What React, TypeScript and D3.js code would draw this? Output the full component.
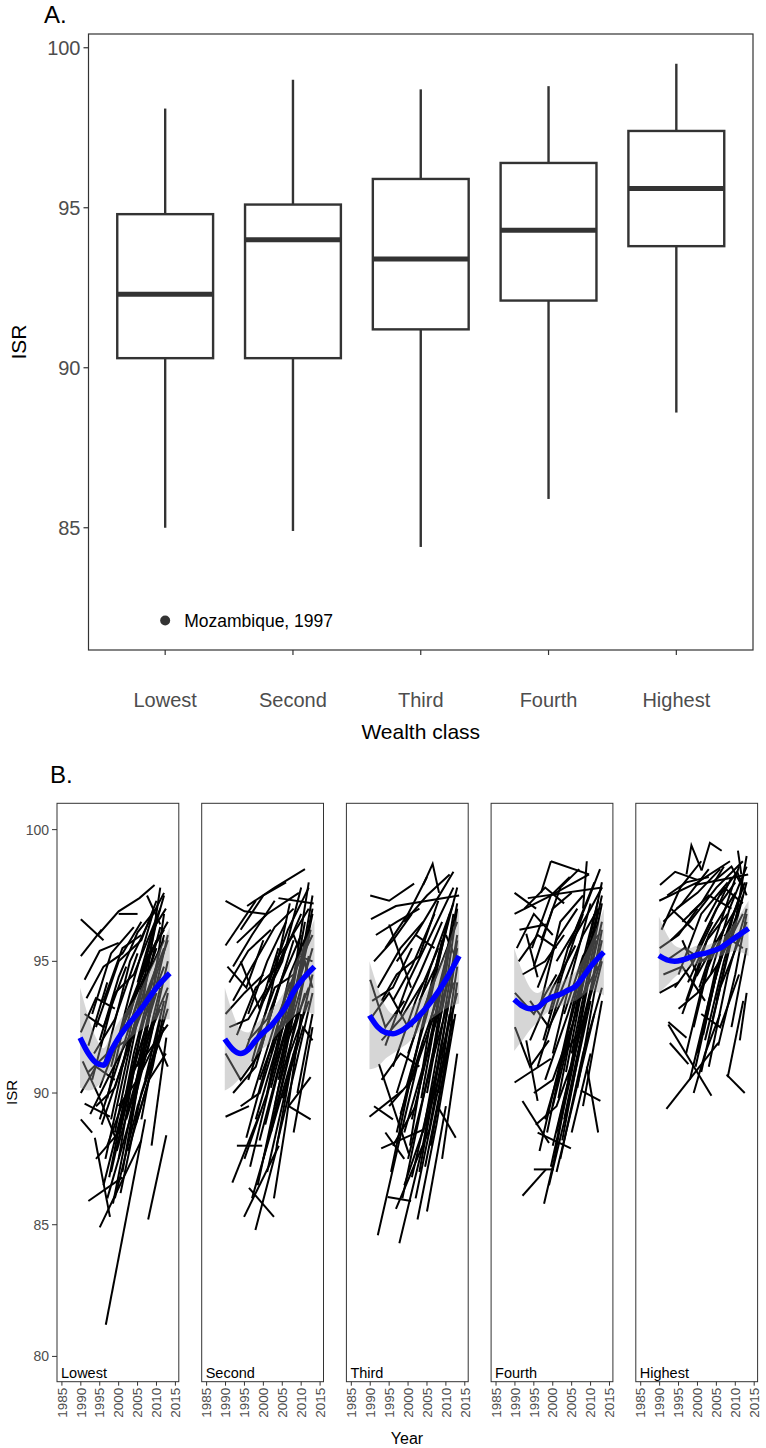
import React from 'react';
import * as d3 from 'd3';

// ---------- Panel A data (boxplot of ISR by wealth class) ----------
const wealthClasses = ['Lowest', 'Second', 'Third', 'Fourth', 'Highest'];
const whiskerLow = [85.0, 84.9, 84.4, 85.9, 88.6];
const quartile1 = [90.3, 90.3, 91.2, 92.1, 93.8];
const medians = [92.3, 94.0, 93.4, 94.3, 95.6];
const quartile3 = [94.8, 95.1, 95.9, 96.4, 97.4];
const whiskerHigh = [98.1, 99.0, 98.7, 98.8, 99.5];
const outlierClass = 'Lowest';
const outlierValue = 82.1;
const outlierLabel = 'Mozambique, 1997';
const yTicksA = [85, 90, 95, 100];

// ---------- Panel B data (country trajectories by wealth class) ----------
const yearTicks = [1985, 1990, 1995, 2000, 2005, 2010, 2015];
const yTicksB = [80, 85, 90, 95, 100];
const smoothYears = [1989.8, 1992, 1994, 1996, 1998, 2000, 2002, 2004, 2006, 2008, 2010, 2013.5];

const smoothLowest = [92.1, 91.5, 91.15, 91.05, 91.6, 92.1, 92.5, 92.85, 93.2, 93.6, 94.0, 94.55];
const lowerLowest = [90.2, 90.1, 90.2, 90.5, 90.9, 91.4, 91.9, 92.2, 92.4, 92.6, 92.8, 92.8];
const upperLowest = [94.0, 92.9, 92.1, 91.7, 92.2, 92.7, 93.1, 93.5, 94.0, 94.6, 95.2, 96.3];

const smoothSecond = [92.05, 91.65, 91.5, 91.65, 92.0, 92.3, 92.55, 92.9, 93.3, 93.85, 94.25, 94.8];
const lowerSecond = [90.1, 90.3, 90.6, 91.0, 91.4, 91.7, 91.95, 92.3, 92.6, 92.9, 93.1, 93.0];
const upperSecond = [94.0, 93.0, 92.4, 92.3, 92.6, 92.9, 93.15, 93.5, 94.0, 94.8, 95.4, 96.6];

const smoothThird = [92.95, 92.5, 92.3, 92.25, 92.35, 92.55, 92.8, 93.1, 93.45, 93.85, 94.3, 95.2];
const lowerThird = [90.9, 91.0, 91.3, 91.5, 91.7, 91.9, 92.2, 92.5, 92.8, 93.0, 93.2, 93.4];
const upperThird = [95.0, 94.0, 93.3, 93.0, 93.0, 93.2, 93.4, 93.7, 94.1, 94.7, 95.4, 97.0];

const smoothFourth = [93.55, 93.3, 93.2, 93.25, 93.5, 93.65, 93.75, 93.9, 94.05, 94.4, 94.8, 95.35];
const lowerFourth = [91.6, 92.0, 92.4, 92.7, 93.0, 93.2, 93.3, 93.4, 93.5, 93.7, 93.9, 93.7];
const upperFourth = [95.5, 94.6, 94.0, 93.8, 94.0, 94.1, 94.2, 94.4, 94.6, 95.1, 95.7, 97.0];

const smoothHighest = [95.22, 95.05, 95.0, 95.05, 95.15, 95.25, 95.3, 95.4, 95.5, 95.7, 95.9, 96.25];
const lowerHighest = [93.8, 94.1, 94.4, 94.6, 94.8, 94.9, 95.0, 95.1, 95.2, 95.3, 95.4, 95.2];
const upperHighest = [96.7, 96.0, 95.6, 95.5, 95.5, 95.6, 95.6, 95.7, 95.8, 96.1, 96.5, 97.3];

type Pt = [number, number];

const linesLowest: Pt[][] = [
  [[1990, 96.6], [1996, 95.8]],
  [[1990, 95.2], [1995.5, 96.2]],
  [[1994.5, 96.0], [2000, 96.9], [2005.5, 97.4], [2009.5, 97.9]],
  [[2000, 96.8], [2005, 96.8]],
  [[2007.5, 97.5], [2011, 96.4]],
  [[1991, 94.3], [1995, 95.4], [2000, 95.7]],
  [[1991.5, 93.6], [1996, 94.8], [2001, 95.3], [2006, 96.5]],
  [[1993, 93.0], [1998, 95.3], [2004, 96.3]],
  [[1994, 92.5], [2000, 95.0], [2006, 95.8], [2010, 97.3]],
  [[1995, 92.0], [2000, 94.4], [2005, 96.1], [2010, 97.0]],
  [[1996, 91.0], [2003, 95.0], [2008, 96.5], [2012, 97.6]],
  [[1992, 91.8], [1997, 94.2]],
  [[1990, 92.3], [1994, 93.6], [1999, 93.2]],
  [[1993, 90.5], [1999, 93.8], [2004, 94.5], [2011, 97.0]],
  [[1997, 89.8], [2002, 93.0], [2008, 95.2], [2012, 96.2]],
  [[1998, 89.0], [2004, 93.0], [2010, 95.5]],
  [[1999, 88.5], [2005, 92.8], [2012, 95.5]],
  [[2000, 87.5], [2006, 92.5], [2012, 94.8]],
  [[2001, 87.0], [2007, 92.0], [2013, 94.0]],
  [[1995, 90.2], [2001, 92.5], [2007, 94.5]],
  [[1991, 89.6], [1997.7, 89.1]],
  [[1993.7, 88.3], [1997.7, 85.3]],
  [[1992, 85.9], [2001, 86.8]],
  [[1995, 84.9], [2000, 86.4], [2006, 88.2]],
  [[1996.6, 81.2], [2007, 89.0]],
  [[2007.8, 85.2], [2012.6, 88.4]],
  [[2008.7, 88.0], [2012.6, 92.1]],
  [[1996, 86.5], [2003, 90.5], [2010, 93.8]],
  [[1997, 88.0], [2002, 90.0], [2008, 93.5]],
  [[1998, 87.0], [2004, 90.8], [2011, 93.2]],
  [[1999, 86.0], [2005, 89.5], [2012, 92.5]],
  [[2000, 89.5], [2005, 90.5], [2010, 92.0], [2013, 91.0]],
  [[2002, 89.0], [2008, 91.8], [2013, 95.0]],
  [[2003, 88.5], [2008, 92.8], [2012, 96.8]],
  [[2004, 90.0], [2009, 93.5], [2013, 96.0]],
  [[2005, 91.0], [2010, 94.5], [2013, 95.8]],
  [[1990, 90.0], [1994, 91.0], [1999, 90.5]],
  [[1992, 90.8], [1997, 91.5], [2002, 92.0]],
  [[1994, 89.5], [1999, 90.2], [2004, 92.5], [2010, 94.8]],
  [[1990, 89.0], [1993, 88.5]],
  [[2006, 89.0], [2011, 92.8]],
  [[2007, 90.5], [2012, 93.5]],
  [[2001, 91.0], [2006, 93.5], [2011, 96.3]],
  [[2002, 92.5], [2007, 95.0], [2013, 96.5]],
  [[1996, 93.5], [2001, 95.5], [2006, 96.0]],
  [[2003, 93.0], [2008, 95.5], [2012, 97.5]],
  [[2006, 93.0], [2011, 97.8]],
  [[1999, 91.8], [2005, 94.0], [2010, 95.8]],
  [[1994, 87.5], [2000, 88.5], [2005, 91.5]],
  [[1997, 86.0], [2003, 89.0], [2009, 92.5]],
  [[1995.5, 88.8], [2002, 91.5], [2009, 94.2]],
  [[1996.5, 87.5], [2003, 91.8], [2010, 96.5]],
  [[1998.5, 85.8], [2004, 89.8], [2011, 94.0]],
  [[1997.5, 86.8], [2004, 91.5], [2012, 96.0]],
  [[2000.5, 86.2], [2006, 90.0], [2013, 93.2]],
  [[1999.5, 87.8], [2006, 91.2], [2013, 92.6]],
  [[1993.5, 91.5], [1999, 92.8], [2005, 95.3]],
  [[1992.5, 89.2], [1998, 90.8], [2003, 92.2]],
  [[1995, 89.0], [2000, 91.2], [2006, 94.0], [2012, 95.8]],
  [[2002.5, 87.8], [2008, 90.5], [2012.5, 91.5]],
  [[2004.5, 88.8], [2009, 91.0], [2013, 93.8]],
  [[1990.5, 91.2], [1995, 89.8], [2000, 88.0]],
  [[1998, 91.0], [2003, 93.8], [2009, 96.8]],
  [[2005, 94.2], [2009, 96.2], [2012.5, 97.0]],
  [[1991, 93.0], [1996, 92.5], [2002, 94.8]],
];

const linesSecond: Pt[][] = [
  [[1990, 97.3], [1995, 96.9], [2000.6, 96.8]],
  [[1995.7, 97.1], [2003, 97.8], [2011, 98.5]],
  [[1990, 95.6], [1998, 97.3]],
  [[1993, 95.7], [2001, 96.8], [2009.4, 97.6]],
  [[2004, 97.4], [2013.3, 97.2]],
  [[1991, 94.2], [1996, 95.4], [2002, 96.2]],
  [[1992, 93.5], [1997, 94.8], [2003, 96.3], [2008, 97.0]],
  [[1994, 95.0], [1999, 93.2], [2004, 95.5]],
  [[1990, 93.0], [1995, 93.8], [2000, 94.5]],
  [[1993, 92.2], [1998, 94.0], [2004, 94.8], [2010, 96.8]],
  [[1995, 91.5], [2000, 93.5], [2006, 95.6], [2012, 97.0]],
  [[1996, 90.5], [2002, 93.0], [2008, 95.8]],
  [[1997, 89.8], [2003, 92.6], [2009, 94.8], [2013, 96.0]],
  [[1998, 89.0], [2004, 92.0], [2010, 94.5]],
  [[1999, 88.2], [2005, 91.5], [2012, 94.0]],
  [[2000, 87.5], [2006, 91.0], [2012, 95.2]],
  [[2001, 87.0], [2007, 90.8], [2013, 94.5]],
  [[1990, 89.1], [1996.2, 89.5]],
  [[1991.8, 86.6], [1999.3, 89.3]],
  [[1994.9, 85.3], [2004.1, 88.0]],
  [[1997.9, 84.8], [2003.2, 87.7], [2008, 91.5]],
  [[1996.2, 86.4], [2002.8, 85.3]],
  [[2002.8, 86.0], [2005.9, 88.8], [2010, 93.0]],
  [[2006.7, 89.5], [2012.5, 89.0]],
  [[2006.7, 89.5], [2012.5, 90.6]],
  [[1993, 88.0], [1999.7, 88.0]],
  [[1990, 91.5], [1994, 90.5], [1999, 91.5]],
  [[1992, 90.0], [1998, 91.0], [2003, 93.5]],
  [[2002, 88.5], [2007, 91.5], [2012, 93.5]],
  [[2003, 89.5], [2008, 93.0], [2013, 95.5]],
  [[2004, 90.5], [2009, 94.0], [2013, 96.8]],
  [[2005, 91.5], [2010, 95.0], [2013, 97.5]],
  [[2006, 92.5], [2011, 96.5]],
  [[2007, 93.5], [2012, 98.0]],
  [[2000, 93.5], [2005, 95.0], [2010, 97.8]],
  [[1996, 93.0], [2001, 95.0], [2006, 96.5]],
  [[1998, 92.0], [2003, 94.0], [2008, 94.5]],
  [[2001, 90.0], [2006, 92.5], [2011, 95.0]],
  [[1999, 90.5], [2004, 92.5], [2009, 93.0]],
  [[2008, 88.5], [2013, 92.5]],
  [[2009, 90.0], [2013, 93.0]],
  [[1995, 87.5], [2001, 90.0], [2006, 93.5]],
  [[1997, 86.0], [2003, 89.0], [2009, 92.0]],
  [[1991, 92.5], [1996, 92.8], [2001, 94.0]],
  [[2002, 91.5], [2007, 94.5], [2012, 96.2]],
  [[1994, 96.2], [2000, 97.5], [2006, 98.0]],
  [[2010, 95.5], [2013, 94.0]],
  [[2003, 95.0], [2008, 96.0], [2012, 94.5]],
  [[1995.5, 88.3], [2001, 91.2], [2007, 94.2]],
  [[1996.5, 87.2], [2002.5, 90.8], [2009, 95.0]],
  [[1998.5, 86.5], [2004, 90.2], [2011, 93.8]],
  [[2000.5, 88.8], [2006, 92.0], [2012.5, 96.2]],
  [[1999, 91.5], [2004, 94.0], [2010, 96.0]],
  [[2002, 90.2], [2007.5, 93.2], [2013, 97.0]],
  [[2003.5, 88.0], [2008.5, 91.0], [2013, 93.8]],
  [[1997, 91.2], [2002, 93.8], [2007, 97.2]],
  [[1994, 89.5], [1999, 90.0], [2005, 92.8]],
  [[1992, 94.8], [1997, 96.0], [2003, 97.3]],
  [[2001.5, 94.2], [2006.5, 96.2], [2012, 97.8]],
  [[2004.5, 92.5], [2009.5, 95.2], [2013, 95.0]],
  [[1990.5, 94.8], [1995.5, 94.0], [2000, 95.8]],
  [[2005, 89.8], [2010.5, 92.5], [2013, 92.0]],
  [[1996, 92.0], [2001, 92.8], [2006, 94.8]],
];

const linesThird: Pt[][] = [
  [[1990, 97.5], [1995, 97.3], [2001.6, 97.95]],
  [[2004, 97.9], [2006.5, 98.7], [2008.2, 97.6]],
  [[1990.2, 96.6], [1996.8, 97.1], [2013.5, 97.5]],
  [[1995, 96.4], [2000.8, 94.0]],
  [[1999, 96.5], [2005, 97.5], [2011, 98.3]],
  [[2002, 96.0], [2007, 97.2], [2012, 98.4]],
  [[1991, 95.0], [1996, 95.8], [2001, 96.8]],
  [[1992, 94.0], [1998, 95.5], [2004, 96.5]],
  [[1993, 93.5], [1997, 94.5], [2003, 95.2], [2008, 97.3]],
  [[1990, 94.3], [1994, 92.5], [1999, 93.5]],
  [[1994, 91.8], [2000, 94.2], [2006, 96.0], [2012, 97.8]],
  [[1996, 91.0], [2002, 93.5], [2008, 95.5]],
  [[1997, 90.0], [2003, 92.8], [2009, 95.0], [2013, 96.5]],
  [[1998, 89.2], [2004, 92.0], [2010, 94.5]],
  [[1999, 88.5], [2005, 91.5], [2012, 95.0]],
  [[2000, 87.5], [2006, 91.0], [2012, 94.2]],
  [[2001, 86.8], [2007, 90.5], [2013, 93.8]],
  [[1989.8, 89.1], [1998.6, 90.1]],
  [[1992.9, 87.9], [2003.9, 88.6]],
  [[1992, 84.6], [1998.2, 88.5], [2004, 92.0]],
  [[1997.7, 84.3], [2003.9, 88.0], [2009, 92.0]],
  [[1994.6, 86.05], [2000.8, 85.9]],
  [[1996.8, 85.6], [2005.6, 88.6], [2011, 93.0]],
  [[1992.3, 91.1], [2000.2, 87.7]],
  [[2007.8, 89.5], [2012.6, 88.3]],
  [[2002, 86.0], [2007, 89.5], [2012, 92.8]],
  [[2003, 87.0], [2008, 91.0], [2013, 95.5]],
  [[2004, 88.5], [2009, 92.5], [2013, 96.0]],
  [[2005, 90.0], [2010, 94.0], [2013, 97.0]],
  [[2006, 91.0], [2011, 95.5]],
  [[2007, 92.5], [2012, 96.8]],
  [[1995, 89.5], [2001, 90.5], [2007, 93.0]],
  [[1990, 92.8], [1995, 93.8], [2000, 92.5]],
  [[1993, 90.5], [1998, 91.5], [2003, 91.0]],
  [[2000, 91.5], [2005, 93.5], [2011, 96.8]],
  [[1998, 93.0], [2003, 94.5], [2009, 96.5]],
  [[2008, 90.0], [2013, 94.8]],
  [[2009, 87.5], [2013, 91.5]],
  [[1996, 88.0], [2002, 89.5], [2008, 93.5]],
  [[1999, 86.5], [2005, 89.0], [2010, 91.5]],
  [[1991, 89.5], [1996, 89.0]],
  [[2003, 93.5], [2008, 95.0], [2013, 97.8]],
  [[1997, 95.0], [2002, 96.0], [2007, 95.5]],
  [[2010, 96.0], [2013, 95.0]],
  [[2001, 89.0], [2006, 92.0], [2011, 95.8]],
  [[1994, 88.5], [1999, 87.5]],
  [[2006, 88.0], [2011, 92.0]],
  [[2005, 85.5], [2010, 89.5]],
  [[1995.5, 87.0], [2001, 90.8], [2007, 94.5]],
  [[1997, 88.5], [2002.5, 91.8], [2009, 95.8]],
  [[1998.5, 86.0], [2004, 89.8], [2010.5, 94.2]],
  [[2000.5, 88.0], [2006, 92.8], [2012, 96.2]],
  [[2002.5, 85.2], [2007.5, 88.8], [2012.5, 93.0]],
  [[2003.5, 89.8], [2008.5, 93.8], [2013, 97.2]],
  [[1999.5, 90.2], [2005, 93.0], [2010.5, 96.5]],
  [[1994, 95.5], [2000, 96.8], [2005, 98.2]],
  [[1991.5, 96.0], [1997, 96.5], [2003, 97.0]],
  [[1996, 93.5], [2001, 94.8], [2007, 96.8]],
  [[2001, 92.5], [2006, 94.8], [2012, 97.2]],
  [[1993, 92.0], [1998, 92.8], [2004, 94.2]],
  [[2004.5, 87.2], [2009.5, 90.8], [2013, 94.2]],
  [[2006, 89.5], [2010.5, 93.2], [2013, 95.8]],
  [[1990.5, 93.5], [1996, 94.0], [2001, 95.5]],
];

const linesFourth: Pt[][] = [
  [[1999.5, 98.8], [2009.6, 98.3]],
  [[1996.9, 97.6], [1999.5, 98.8]],
  [[2009, 98.8], [2008, 97.0]],
  [[1989.9, 97.6], [1995.6, 97.0]],
  [[1989.9, 96.8], [1998.2, 97.4], [2009.6, 98.3]],
  [[1993.4, 97.4], [2013.1, 97.8]],
  [[1991.2, 96.2], [1998.2, 96.4]],
  [[1993, 96.05], [1996, 94.4]],
  [[1995, 94.8], [2000, 97.0], [2005, 97.6]],
  [[1997, 93.5], [2002, 96.5], [2008, 97.5]],
  [[1999, 93.0], [2004, 95.5], [2010, 97.0], [2013, 97.8]],
  [[1992, 94.5], [1998, 95.0], [2003, 96.0]],
  [[1990, 93.8], [1995, 93.0], [2001, 94.5]],
  [[1994, 92.0], [2000, 94.0], [2006, 95.6]],
  [[1996, 91.0], [2002, 93.8], [2008, 96.0], [2012, 97.0]],
  [[1998, 90.5], [2004, 93.0], [2010, 95.8]],
  [[2000, 89.5], [2006, 93.0], [2012, 96.5]],
  [[2001, 88.5], [2007, 92.2], [2013, 95.2]],
  [[2002, 87.5], [2008, 91.5], [2013, 94.0]],
  [[1989.9, 90.4], [1999.5, 91.3]],
  [[1992, 89.7], [1999, 88.1]],
  [[1992, 86.1], [1998.2, 87.1]],
  [[1995, 87.1], [2000.3, 87.1]],
  [[1997.7, 85.8], [2000.3, 87.4], [2006, 91.9]],
  [[1996, 88.5], [2004.8, 87.9]],
  [[2007.4, 90.1], [2012.6, 89.7]],
  [[1993, 92.0], [1996, 89.7]],
  [[1999, 86.5], [2004, 89.5], [2010, 93.5]],
  [[2000, 88.0], [2005, 91.0], [2011, 94.5]],
  [[2003, 89.0], [2008, 92.5], [2013, 95.8]],
  [[2004, 90.5], [2009, 94.0], [2013, 96.5]],
  [[2005, 91.5], [2010, 95.0], [2013, 97.2]],
  [[2006, 93.0], [2011, 96.8]],
  [[1997, 95.8], [2002, 97.8], [2007, 98.5]],
  [[2001, 95.0], [2006, 96.2], [2011, 98.0]],
  [[1991, 95.0], [1996, 96.0], [2001, 95.5]],
  [[1994, 93.5], [1999, 92.5], [2004, 94.0]],
  [[2002, 91.0], [2007, 93.5], [2012, 94.8]],
  [[2005, 88.5], [2010, 91.5]],
  [[2008, 89.5], [2013, 93.5]],
  [[1998, 89.0], [2003, 91.5], [2008, 92.5]],
  [[1990, 92.5], [1994, 91.0], [1999, 92.0]],
  [[2009, 91.0], [2012, 88.5]],
  [[2003, 93.0], [2008, 95.2], [2012, 96.0]],
  [[1995, 90.0], [2000, 90.5], [2005, 92.5]],
  [[2010, 96.0], [2013, 98.0]],
  [[2001, 87.0], [2006, 90.0], [2011, 93.0]],
  [[2007, 94.5], [2012, 97.3]],
  [[1996.5, 87.8], [2002, 91.2], [2008, 95.0]],
  [[1998.5, 88.5], [2003.5, 92.0], [2009.5, 95.5]],
  [[1999.5, 87.2], [2005, 90.8], [2011.5, 95.8]],
  [[2001.5, 89.8], [2006.5, 93.5], [2012, 97.0]],
  [[2002.5, 88.2], [2007.5, 92.0], [2013, 96.2]],
  [[2003.5, 90.8], [2008.5, 94.5], [2013, 97.5]],
  [[2000, 91.5], [2005, 94.5], [2010, 97.2]],
  [[1994.5, 95.5], [1999.5, 97.5], [2004.5, 98.2]],
  [[1992.5, 97.0], [1998, 97.8], [2003, 97.2]],
  [[1996, 94.0], [2001, 95.8], [2006.5, 97.0]],
  [[1990.5, 95.5], [1995, 96.8], [2000, 96.0]],
  [[2004, 95.5], [2009, 97.2], [2012.5, 98.5]],
  [[1997.5, 92.0], [2002.5, 94.5], [2008, 96.8]],
  [[2006.5, 90.2], [2011, 93.8], [2013, 95.0]],
  [[1995.5, 88.8], [2001, 89.5], [2006, 91.5]],
];

const linesHighest: Pt[][] = [
  [[1997.1, 98.3], [1998.4, 99.4], [2001.1, 98.45]],
  [[2001.1, 98.45], [2003.3, 99.5], [2006.4, 99.2]],
  [[1990.1, 97.9], [1994.1, 98.4], [1999.8, 98.1]],
  [[1989.9, 97.3], [2000, 98.0], [2008.6, 98.8]],
  [[1999.3, 97.9], [2013.4, 98.3]],
  [[2010.7, 99.2], [2011.6, 98.3]],
  [[1991, 96.5], [1996, 97.2], [2003, 98.5]],
  [[1993, 95.8], [1998, 96.5], [2005, 97.8], [2012, 98.8]],
  [[1990, 95.5], [1995, 96.0], [2000, 97.0]],
  [[1995, 94.5], [2001, 96.8], [2008, 98.0]],
  [[1997, 93.5], [2003, 96.0], [2010, 97.6]],
  [[1999, 92.5], [2004, 95.5], [2011, 97.2]],
  [[2000, 91.5], [2005, 94.8], [2012, 96.8]],
  [[2001, 90.8], [2006, 94.0], [2013, 96.5]],
  [[1992.3, 92.7], [1997.1, 92.1]],
  [[2013, 93.8], [2011.2, 92.0]],
  [[1992.7, 91.9], [1997.6, 91.1]],
  [[1992.3, 92.6], [2003.7, 89.9]],
  [[1991.8, 89.4], [2005.5, 91.9]],
  [[2007.7, 90.7], [2012.5, 90.0]],
  [[2008, 90.6], [2012.1, 93.5]],
  [[1998, 90.5], [2003, 93.5], [2009, 96.5]],
  [[1997, 91.5], [2002, 94.5], [2007, 96.2]],
  [[1996, 93.0], [2001, 95.0], [2006, 95.5]],
  [[1994, 94.0], [1999, 95.0], [2004, 96.5]],
  [[1991, 94.5], [1996, 94.8], [2002, 93.5]],
  [[1990, 93.8], [1995, 94.2]],
  [[2002, 92.0], [2007, 95.0], [2012, 97.5]],
  [[2003, 91.0], [2008, 94.5], [2013, 97.0]],
  [[2004, 92.8], [2009, 95.8], [2013, 98.0]],
  [[2005, 93.5], [2010, 96.5], [2013, 99.0]],
  [[2006, 95.0], [2011, 97.0]],
  [[2000, 95.5], [2005, 97.0], [2010, 98.0]],
  [[1998, 96.8], [2003, 97.5], [2009, 97.0]],
  [[2007, 96.0], [2012, 95.5]],
  [[1999, 90.0], [2002, 91.5], [2006, 93.0]],
  [[2001, 93.0], [2006, 92.5], [2011, 94.5]],
  [[2009, 92.5], [2013, 95.5]],
  [[1996, 95.8], [2000, 94.5], [2005, 95.8]],
  [[1993, 97.0], [1999, 96.2]],
  [[2004, 98.0], [2009, 98.6], [2012, 97.8]],
  [[2002, 96.5], [2007, 97.8], [2012, 97.2]],
  [[1990.5, 96.2], [1995.5, 97.8], [2001, 98.8]],
  [[1992, 97.5], [1997, 98.0], [2003, 98.2]],
  [[1994.5, 97.0], [2000, 97.6], [2006, 98.5]],
  [[1996, 96.5], [2001, 97.2], [2007, 98.6]],
  [[1998.5, 95.0], [2003.5, 96.5], [2009, 98.2]],
  [[2000.5, 94.0], [2005.5, 96.2], [2011, 98.6]],
  [[2002.5, 93.0], [2007.5, 96.0], [2012.5, 98.0]],
  [[1999.5, 91.0], [2004.5, 94.2], [2010, 97.0]],
  [[2001.5, 92.2], [2006.5, 95.5], [2012, 97.8]],
  [[2003.5, 94.5], [2008.5, 97.0], [2013, 98.6]],
  [[1995, 93.2], [2000, 93.8], [2005, 94.8]],
  [[1991.5, 95.0], [1996.5, 95.5], [2002, 95.0]],
  [[2005.5, 91.8], [2010, 94.5], [2013, 96.8]],
  [[1997.5, 94.2], [2002.5, 95.8], [2008, 96.8]],
  [[2006, 97.5], [2010.5, 98.4], [2013, 97.5]],
];

const facetLines = [linesLowest, linesSecond, linesThird, linesFourth, linesHighest];
const facetSmooth = [smoothLowest, smoothSecond, smoothThird, smoothFourth, smoothHighest];
const facetLower = [lowerLowest, lowerSecond, lowerThird, lowerFourth, lowerHighest];
const facetUpper = [upperLowest, upperSecond, upperThird, upperFourth, upperHighest];

const FONT = "'Liberation Sans', Arial, Helvetica, sans-serif";
const AXIS_GREY = '#4D4D4D';
const DARK = '#333333';

export default function App() {
  // ---------- Panel A geometry ----------
  const A = { left: 88.5, right: 753, top: 34, bottom: 650 };
  const xA = d3.scalePoint<string>().domain(wealthClasses).range([A.left, A.right]).padding(0.6);
  const boxW = xA.step() * 0.75;
  const yA = d3.scaleLinear().domain([81.18, 100.43]).range([A.bottom, A.top]);

  // ---------- Panel B geometry ----------
  const B = { top: 803.3, bottom: 1381.7, left0: 57, width: 121.8, pitch: 144.7 };
  const yB = d3.scaleLinear().domain([79.04, 101.0]).range([B.bottom, B.top]);

  return (
    <svg width={766} height={1448} style={{ position: 'absolute', left: 0, top: 0, background: '#fff' }}
      fontFamily={FONT}>
      <rect x={0} y={0} width={766} height={1448} fill="#fff" />

      {/* ================= Panel A ================= */}
      <text x={44} y={23} fontSize={24} fill="#000">A.</text>

      {wealthClasses.map((c, i) => {
        const cx = xA(c) as number;
        return (
          <g key={c} stroke={DARK} fill="#fff">
            <line x1={cx} x2={cx} y1={yA(whiskerHigh[i])} y2={yA(quartile3[i])} strokeWidth={2.4} />
            <line x1={cx} x2={cx} y1={yA(quartile1[i])} y2={yA(whiskerLow[i])} strokeWidth={2.4} />
            <rect x={cx - boxW / 2} y={yA(quartile3[i])} width={boxW}
              height={yA(quartile1[i]) - yA(quartile3[i])} strokeWidth={2.4} />
            <line x1={cx - boxW / 2} x2={cx + boxW / 2} y1={yA(medians[i])} y2={yA(medians[i])}
              strokeWidth={5} />
          </g>
        );
      })}

      <circle cx={xA(outlierClass) as number} cy={yA(outlierValue)} r={5} fill={DARK} />
      <text x={(xA(outlierClass) as number) + 19} y={yA(outlierValue)} dy="0.35em" fontSize={17.5} fill="#000">
        {outlierLabel}
      </text>

      <rect x={A.left} y={A.top} width={A.right - A.left} height={A.bottom - A.top}
        fill="none" stroke={DARK} strokeWidth={1.2} />

      {yTicksA.map(t => (
        <g key={t}>
          <line x1={A.left - 5} x2={A.left} y1={yA(t)} y2={yA(t)} stroke={DARK} strokeWidth={1.2} />
          <text x={A.left - 8} y={yA(t)} dy="0.35em" textAnchor="end" fontSize={20} fill={AXIS_GREY}>{t}</text>
        </g>
      ))}
      <text transform={`translate(26,${(A.top + A.bottom) / 2}) rotate(-90)`} textAnchor="middle"
        fontSize={21} fill="#000">ISR</text>

      {wealthClasses.map(c => (
        <g key={c}>
          <line x1={xA(c) as number} x2={xA(c) as number} y1={A.bottom} y2={A.bottom + 5}
            stroke={DARK} strokeWidth={1.2} />
          <text x={xA(c) as number} y={A.bottom + 57} textAnchor="middle" fontSize={20}
            fill={AXIS_GREY}>{c}</text>
        </g>
      ))}
      <text x={(A.left + A.right) / 2} y={739} textAnchor="middle" fontSize={21} fill="#000">Wealth class</text>

      {/* ================= Panel B ================= */}
      <text x={50} y={783} fontSize={24} fill="#000">B.</text>

      {wealthClasses.map((c, fi) => {
        const left = B.left0 + fi * B.pitch;
        const xB = d3.scaleLinear().domain([1983.7, 2015.9]).range([left, left + B.width]);
        const lineGen = d3.line<Pt>().x(d => xB(d[0])).y(d => yB(d[1]));
        const smoothPts: Pt[] = smoothYears.map((yr, k) => [yr, facetSmooth[fi][k]]);
        const smoothGen = d3.line<Pt>().x(d => xB(d[0])).y(d => yB(d[1])).curve(d3.curveMonotoneX);
        const areaGen = d3.area<number>()
          .x((_, k) => xB(smoothYears[k]))
          .y0((_, k) => yB(facetLower[fi][k]))
          .y1((_, k) => yB(facetUpper[fi][k]))
          .curve(d3.curveMonotoneX);
        return (
          <g key={c}>
            <g fill="none" stroke="#000" strokeWidth={2} strokeLinecap="butt">
              {facetLines[fi].map((ln, li) => (
                <path key={li} d={lineGen(ln) || ''} />
              ))}
            </g>
            <path d={areaGen(smoothYears) || ''} fill="#999999" fillOpacity={0.4} stroke="none" />
            <path d={smoothGen(smoothPts) || ''} fill="none" stroke="#0000FF" strokeWidth={5.5} />
            <rect x={left} y={B.top} width={B.width} height={B.bottom - B.top}
              fill="none" stroke={DARK} strokeWidth={1} />
            <text x={left + 4} y={B.bottom - 4} fontSize={14.5} fill="#000">{c}</text>
            {yearTicks.map(t => (
              <g key={t}>
                <line x1={xB(t)} x2={xB(t)} y1={B.bottom} y2={B.bottom + 4} stroke={DARK} strokeWidth={1} />
                <text transform={`translate(${xB(t)},${B.bottom + 6}) rotate(-90)`} dy="0.35em"
                  textAnchor="end" fontSize={13.5} fill={AXIS_GREY}>{t}</text>
              </g>
            ))}
          </g>
        );
      })}

      {yTicksB.map(t => (
        <g key={t}>
          <line x1={B.left0 - 5} x2={B.left0} y1={yB(t)} y2={yB(t)} stroke={DARK} strokeWidth={1} />
          <text x={B.left0 - 8} y={yB(t)} dy="0.35em" textAnchor="end" fontSize={14} fill={AXIS_GREY}>{t}</text>
        </g>
      ))}
      <text transform={`translate(17,${(B.top + B.bottom) / 2}) rotate(-90)`} textAnchor="middle"
        fontSize={15} fill="#000">ISR</text>
      <text x={407} y={1444} textAnchor="middle" fontSize={16} fill="#000">Year</text>
    </svg>
  );
}
